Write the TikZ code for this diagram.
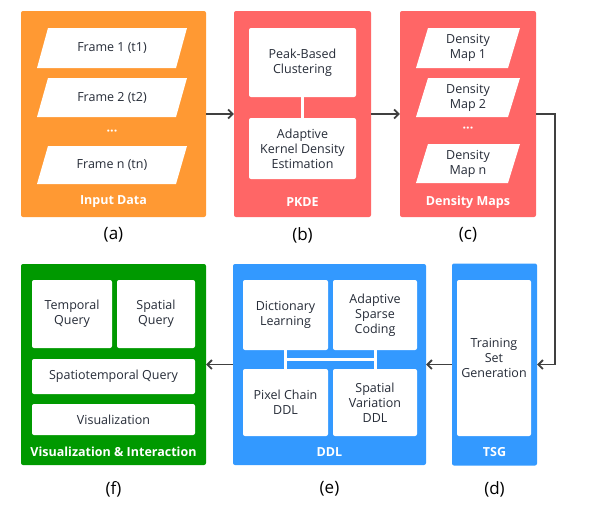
\documentclass[tikz,border=0pt]{standalone}
\usepackage{fontspec}
\setmainfont{Open Sans}
\usetikzlibrary{arrows.meta,calc}
\definecolor{corange}{HTML}{FF9933}
\definecolor{cred}{HTML}{FF6666}
\definecolor{cgreen}{HTML}{009900}
\definecolor{cblue}{HTML}{3399FF}
\definecolor{ctext}{HTML}{262C38}
\definecolor{cline}{HTML}{404040}
\begin{document}
\begin{tikzpicture}[x=1pt,y=-1pt,
  panel/.style={rounded corners=2pt, inner sep=0pt, draw=none},
  inner/.style={fill=white, rounded corners=2pt, inner sep=0pt, align=center,
    text=ctext, font=\fontsize{12.5}{15}\selectfont},
  txt/.style={inner sep=0pt, align=center, text=ctext, font=\fontsize{12.5}{15}\selectfont},
  lab/.style={inner sep=0pt, text=white, font=\fontsize{12.5}{14}\selectfont\bfseries},
  captxt/.style={inner sep=0pt, text=black, font=\fontsize{17}{20}\selectfont},
  wline/.style={draw=white, line width=3pt},
  conn/.style={draw=cline, line width=1.8pt, -{Straight Barb[length=4.5pt,width=9pt,line width=1.8pt]}}
]
\useasboundingbox (0,0) rectangle (589,507);

% panels
\node[panel, fill=corange, minimum width=185pt, minimum height=206pt] (inp) at (113.5,114) {};
\node[panel, fill=cred, minimum width=137pt, minimum height=206pt] (pkde) at (302.5,114) {};
\node[panel, fill=cred, minimum width=136pt, minimum height=206pt] (dens) at (468,114) {};
\node[panel, fill=cgreen, minimum width=185pt, minimum height=201pt] (vis) at (113.5,364.5) {};
\node[panel, fill=cblue, minimum width=193pt, minimum height=201pt] (ddl) at (329.5,364.5) {};
\node[panel, fill=cblue, minimum width=85pt, minimum height=202pt] (tsg) at (494.5,364.5) {};

% input frames (parallelograms)
\fill[white] (37,68) -- (176,68) -- (187,28) -- (48,28) -- cycle;
\fill[white] (37,117) -- (176,117) -- (187,78) -- (48,78) -- cycle;
\fill[white] (37,184) -- (176,184) -- (187,146) -- (48,146) -- cycle;
\node[txt] (f1) at (112,48) {Frame 1 (t1)};
\node[txt] (f2) at (112,97.5) {Frame 2 (t2)};
\node[txt, text=white, font=\fontsize{12.5}{14}\selectfont\bfseries] (fdots) at (112,133) {···};
\node[txt] (fn) at (112,165) {Frame n (tn)};
\node[lab] (linp) at (113.5,202) {Input Data};

% PKDE
\node[inner, minimum width=107pt, minimum height=69pt] (peak) at (302.5,62.5) {Peak-Based\\Clustering};
\node[inner, minimum width=107pt, minimum height=61pt] (akde) at (302.5,148.5) {Adaptive\\Kernel Density\\Estimation};
\draw[wline] (peak.south) -- (akde.north);
\node[lab] (lpkde) at (302.5,202) {PKDE};

% density maps
\fill[white] (416,68) -- (508,68) -- (520,28) -- (428,28) -- cycle;
\fill[white] (416,117) -- (508,117) -- (520,78) -- (428,78) -- cycle;
\fill[white] (416,183) -- (508,183) -- (520,144) -- (428,144) -- cycle;
\node[txt] (d1) at (468,48) {Density\\Map 1};
\node[txt] (d2) at (468,97.5) {Density\\Map 2};
\node[txt, text=white, font=\fontsize{12.5}{14}\selectfont\bfseries] (ddots) at (468,130) {···};
\node[txt] (dn) at (468,163.5) {Density\\Map n};
\node[lab] (ldens) at (468,202) {Density Maps};

% visualization
\node[inner, minimum width=80pt, minimum height=68pt] (tq) at (72,314) {Temporal\\Query};
\node[inner, minimum width=78pt, minimum height=68pt] (sq) at (156,314) {Spatial\\Query};
\node[inner, minimum width=163pt, minimum height=35pt] (stq) at (113.5,376.5) {Spatiotemporal Query};
\node[inner, minimum width=163pt, minimum height=31pt] (vz) at (113.5,419.5) {Visualization};
\node[lab] (lvis) at (113.5,452) {Visualization \& Interaction};

% DDL
\node[inner, minimum width=85pt, minimum height=70pt] (dl) at (285.5,315) {Dictionary\\Learning};
\node[inner, minimum width=84pt, minimum height=70pt] (asc) at (375,315) {Adaptive\\Sparse\\Coding};
\node[inner, minimum width=85pt, minimum height=67pt] (pc) at (285.5,402.5) {Pixel Chain\\DDL};
\node[inner, minimum width=84pt, minimum height=67pt] (sv) at (375,402.5) {Spatial\\Variation\\DDL};
\draw[wline] (dl.south) -- (pc.north);
\draw[wline] (asc.south) -- (sv.north);
\draw[wline] ($(dl.south)!0.5!(pc.north)$) -- ($(asc.south)!0.5!(sv.north)$);
\node[lab] (lddl) at (329.5,452) {DDL};

% TSG
\node[inner, minimum width=74pt, minimum height=156pt] (tsgen) at (494,358) {Training\\Set\\Generation};
\node[lab] (ltsg) at (494.5,452) {TSG};

% captions
\node[captxt] (ca) at (113.5,235) {(a)};
\node[captxt] (cb) at (302.5,235) {(b)};
\node[captxt] (cc) at (468,235) {(c)};
\node[captxt] (cf) at (113.5,489) {(f)};
\node[captxt] (ce) at (329.5,489) {(e)};
\node[captxt] (cd) at (494.5,489) {(d)};

% connectors
\draw[conn] (inp.east) -- (pkde.west);
\draw[conn] (pkde.east) -- (dens.west);
\draw[conn] (dens.east) -- ++(19,0) |- (tsg.east);
\draw[conn] (tsg.west) -- (ddl.east);
\draw[conn] (ddl.west) -- (vis.east);
\end{tikzpicture}
\end{document}
